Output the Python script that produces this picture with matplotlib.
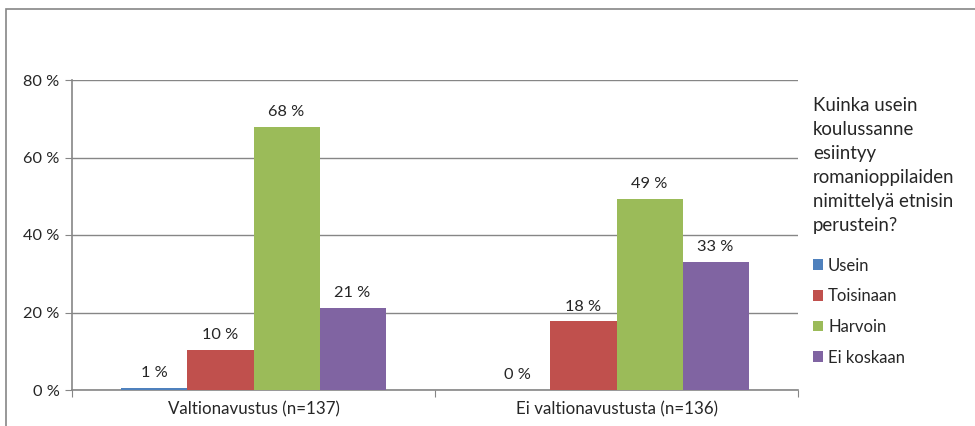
import numpy as np
import matplotlib.pyplot as plt
from matplotlib.patches import Rectangle, Patch

# data
CATEGORIES = ["Valtionavustus (n=137)", "Ei valtionavustusta (n=136)"]
SERIES = ["Usein", "Toisinaan", "Harvoin", "Ei koskaan"]
USEIN = [0.6, 0.0]
TOISINAAN = [10.3, 17.7]
HARVOIN = [67.9, 49.3]
EI_KOSKAAN = [21.2, 33.1]
LABELS = [["1 %", "0 %"], ["10 %", "18 %"], ["68 %", "49 %"], ["21 %", "33 %"]]
COLORS = ["#4F81BD", "#C0504D", "#9BBB59", "#8064A2"]
LEGEND_TITLE = "Kuinka usein\nkoulussanne\nesiintyy\nromanioppilaiden\nnimittelyä etnisin\nperustein?"

plt.rcParams['font.family'] = ['Lato', 'DejaVu Sans']
GRAY = "#868686"
TXT = "#262626"
FS = 11.8

fig = plt.figure(figsize=(9.75, 4.26), dpi=100)
W, H = 975, 426
ax = fig.add_axes([72 / W, 1 - 390 / H, (798 - 72) / W, (390 - 80) / H])

# outer chart frame
fig.patches.append(Rectangle((6 / W, -0.1), 1.2, 1 - 9 / H + 0.1, transform=fig.transFigure,
                             fill=False, edgecolor=GRAY, linewidth=1.2, clip_on=False))

values = [USEIN, TOISINAAN, HARVOIN, EI_KOSKAAN]
x = np.arange(len(CATEGORIES))
bw = 0.182
for i, (vals, col) in enumerate(zip(values, COLORS)):
    pos = x + (i - 1.5) * bw
    ax.bar(pos, vals, width=bw, color=col, zorder=3)
    for p, v, lab in zip(pos, vals, LABELS[i]):
        ax.text(p, v + 2.0, lab, ha="center", va="bottom", fontsize=FS, color=TXT)

ax.set_xlim(-0.5, 1.5)
ax.set_ylim(0, 80)
ax.set_yticks([0, 20, 40, 60, 80])
ax.set_yticklabels(["0 %", "20 %", "40 %", "60 %", "80 %"], fontsize=FS, color=TXT)
ax.yaxis.grid(True, color=GRAY, linewidth=1, zorder=0)
ax.set_axisbelow(True)
ax.tick_params(axis="y", length=5, color=GRAY, pad=4)

ax.set_xticks([-0.5, 0.5, 1.5])
ax.set_xticklabels([])
ax.set_xticks(x, minor=True)
ax.set_xticklabels(CATEGORIES, minor=True, fontsize=12.2, color=TXT)
ax.tick_params(axis="x", which="major", length=5, color=GRAY, direction="out")
ax.tick_params(axis="x", which="minor", length=0, pad=8)

for s in ["top", "right"]:
    ax.spines[s].set_visible(False)
for s in ["left", "bottom"]:
    ax.spines[s].set_color(GRAY)
    ax.spines[s].set_linewidth(1.2)

handles = [Patch(facecolor=c, edgecolor="none") for c in COLORS]
leg = ax.legend(handles, SERIES, loc="upper left", bbox_to_anchor=(798 / W, 1 - 82 / H),
                bbox_transform=fig.transFigure, frameon=False, title=LEGEND_TITLE,
                title_fontsize=13.4, fontsize=12, handlelength=0.6, handleheight=0.6,
                handletextpad=0.3, labelspacing=0.88, alignment="left")
leg._legend_box.sep = 17
for t in leg.get_texts():
    t.set_color(TXT)
leg.get_title().set_color(TXT)
leg.get_title().set_linespacing(1.5)

fig.savefig("out.png", dpi=100)
